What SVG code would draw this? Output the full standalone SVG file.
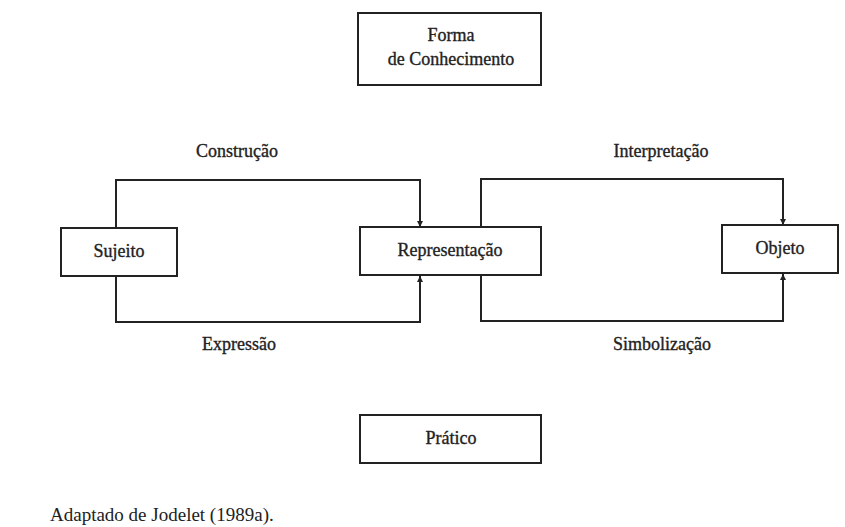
<svg xmlns="http://www.w3.org/2000/svg" width="845" height="527" viewBox="0 0 845 527">
<style>
.box{fill:#fff;stroke:#222;stroke-width:2}
.t{font-family:"Liberation Serif","Times New Roman",serif;font-size:18px;fill:#222;stroke:#222;stroke-width:0.35;text-anchor:middle}
.c{fill:none;stroke:#222;stroke-width:2}
</style>
<defs>
<marker id="ah" viewBox="0 0 10 10" refX="10" refY="5" markerWidth="8" markerHeight="6" markerUnits="userSpaceOnUse" orient="auto">
<path d="M0,0 L10,5 L0,10 z" fill="#222"/>
</marker>
</defs>
<rect width="845" height="527" fill="#fff"/>
<g id="connectors">
<path class="c" d="M116,228 V180 H420 V227" marker-end="url(#ah)"/>
<path class="c" d="M116,276 V322 H420 V276" marker-end="url(#ah)"/>
<path class="c" d="M481,227 V179 H783 V225" marker-end="url(#ah)"/>
<path class="c" d="M481,275 V321 H783 V274" marker-end="url(#ah)"/>
<text class="t" x="237" y="157">Construção</text>
<text class="t" x="239" y="350">Expressão</text>
<text class="t" x="661" y="157">Interpretação</text>
<text class="t" x="662" y="350">Simbolização</text>
</g>
<g id="forma">
<rect class="box" x="358" y="13" width="183" height="72"/>
<text class="t" x="451" y="41">Forma</text>
<text class="t" x="451" y="65">de Conhecimento</text>
</g>
<g id="sujeito">
<rect class="box" x="61" y="228" width="116" height="48"/>
<text class="t" x="119" y="257">Sujeito</text>
</g>
<g id="representacao">
<rect class="box" x="360" y="227" width="181" height="48"/>
<text class="t" x="450" y="256">Representação</text>
</g>
<g id="objeto">
<rect class="box" x="722" y="225" width="116" height="48"/>
<text class="t" x="780" y="254">Objeto</text>
</g>
<g id="pratico">
<rect class="box" x="360" y="415" width="181" height="48"/>
<text class="t" x="451" y="444">Prático</text>
</g>
<text x="50" y="521" style="font-family:'Liberation Serif','Times New Roman',serif;font-size:19px;fill:#222">Adaptado de Jodelet (1989a).</text>
</svg>
